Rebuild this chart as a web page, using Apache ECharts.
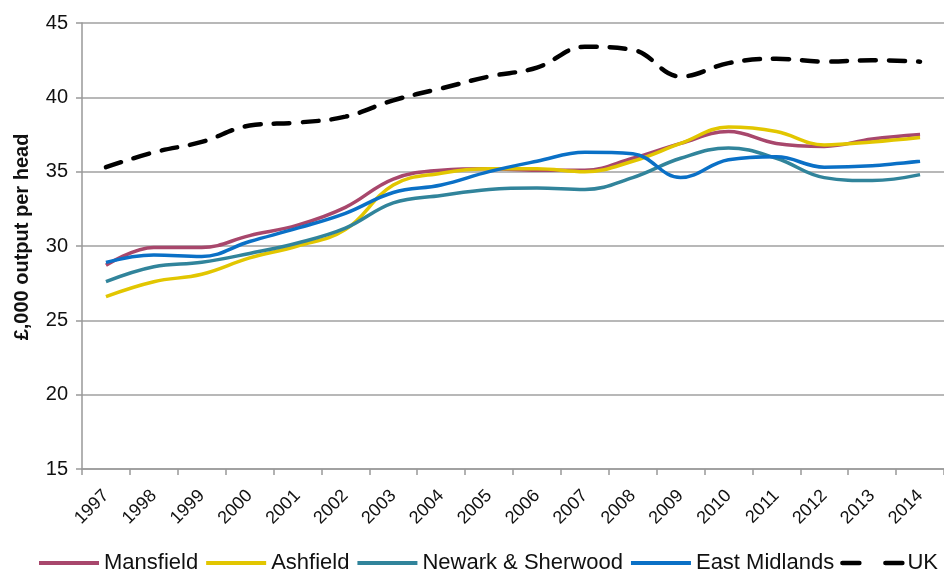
<!DOCTYPE html>
<html>
<head>
<meta charset="utf-8">
<script src="https://cdn.jsdelivr.net/npm/echarts@6/dist/echarts.min.js"></script>
<style>
  html, body { margin: 0; padding: 0; background: #fff; }
  #chart { width: 944px; height: 576px; }
</style>
</head>
<body>
<div id="chart"></div>
<script>
// years on the x axis
const years = ['1997', '1998', '1999', '2000', '2001', '2002', '2003', '2004', '2005',
  '2006', '2007', '2008', '2009', '2010', '2011', '2012', '2013', '2014']

// £,000 output per head
const mansfield = [28.7, 29.9, 29.9, 30.7, 31.4, 32.6, 34.5, 35.1, 35.2, 35.1, 35.1, 35.9, 36.9, 37.7, 36.9, 36.7, 37.2, 37.5]
const ashfield = [26.6, 27.6, 28.1, 29.2, 30.0, 31.1, 34.1, 34.9, 35.2, 35.2, 35.0, 35.7, 36.9, 38.0, 37.7, 36.8, 37.0, 37.3]
const newark = [27.6, 28.6, 28.9, 29.5, 30.2, 31.2, 32.9, 33.4, 33.8, 33.9, 33.8, 34.6, 35.9, 36.6, 35.9, 34.6, 34.4, 34.8]
const eastMidlands = [28.9, 29.4, 29.3, 30.3, 31.2, 32.2, 33.6, 34.1, 35.0, 35.7, 36.3, 36.2, 34.6, 35.8, 36.0, 35.3, 35.4, 35.7]
const uk = [35.3, 36.3, 37.0, 38.1, 38.3, 38.7, 39.8, 40.6, 41.4, 42.0, 43.4, 43.2, 41.4, 42.3, 42.6, 42.4, 42.5, 42.4]

const font = 'Liberation Sans, Arial, sans-serif'
const chart = echarts.init(document.getElementById('chart'))

function line (name, data, color, width, dashed) {
  return {
    name: name,
    type: 'line',
    data: data,
    smooth: 0.4,
    symbol: 'none',
    animation: false,
    lineStyle: {
      color: color,
      width: width,
      type: dashed ? [16, 13] : 'solid',
      cap: dashed ? 'round' : 'butt'
    },
    itemStyle: { color: color }
  }
}

chart.setOption({
  backgroundColor: '#fff',
  textStyle: { fontFamily: font },
  grid: {
    left: 82,
    top: 23,
    bottom: 107,
    width: 871,
    containLabel: false
  },
  legend: {
    left: 37,
    top: 552,
    width: 930,
    padding: 0,
    itemWidth: 60,
    itemHeight: 26,
    itemGap: 6,
    itemStyle: { opacity: 0 },
    lineStyle: { width: 4 },
    textStyle: { fontSize: 22, color: '#111', fontFamily: font },
    data: [
      'Mansfield',
      'Ashfield',
      'Newark & Sherwood',
      'East Midlands',
      { name: 'UK', lineStyle: { width: 4.5, type: [17, 26], cap: 'round' } }
    ]
  },
  xAxis: {
    type: 'category',
    data: years,
    boundaryGap: true,
    axisLine: { lineStyle: { color: '#999', width: 1.5 } },
    axisTick: { show: true, length: 6, lineStyle: { color: '#999', width: 1.5 } },
    axisLabel: { rotate: 45, fontSize: 18, color: '#111', margin: 24, interval: 0 }
  },
  yAxis: {
    type: 'value',
    min: 15,
    max: 45,
    interval: 5,
    name: '£,000 output per head',
    nameLocation: 'middle',
    nameGap: 50,
    nameTextStyle: { fontSize: 20, fontWeight: 'bold', color: '#111', padding: [0, 0, 0, 18] },
    axisLine: { show: true, lineStyle: { color: '#999', width: 1.5 } },
    axisTick: { show: true, length: 6, lineStyle: { color: '#999', width: 1.5 } },
    axisLabel: { fontSize: 20, color: '#111', margin: 14 },
    splitLine: { lineStyle: { color: '#a0a0a0', width: 1.5 } }
  },
  series: [
    line('Mansfield', mansfield, '#a8476c', 3.5),
    line('Ashfield', ashfield, '#e2c600', 3.5),
    line('Newark & Sherwood', newark, '#31849b', 3.5),
    line('East Midlands', eastMidlands, '#0a70c6', 3.5),
    line('UK', uk, '#000', 4.5, true)
  ]
})
</script>
</body>
</html>
